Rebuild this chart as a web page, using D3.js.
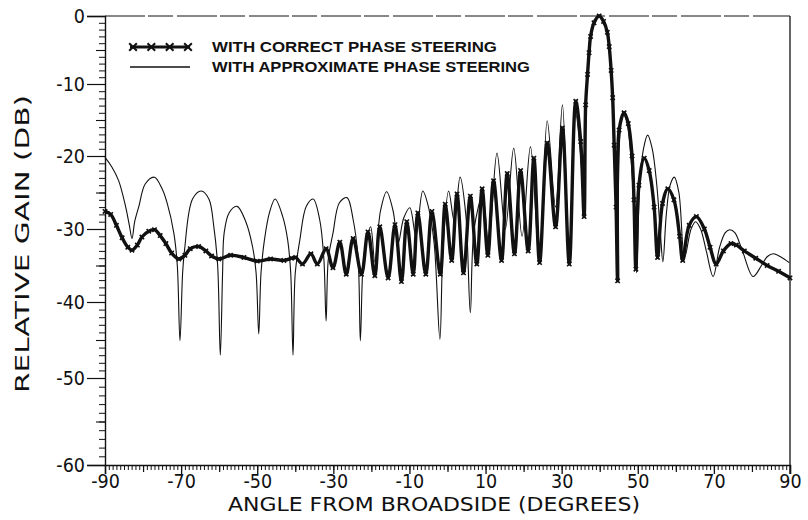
<!DOCTYPE html>
<html><head><meta charset="utf-8">
<script src="https://cdn.jsdelivr.net/npm/d3@7/dist/d3.min.js"></script>
<style>
html,body{margin:0;padding:0;background:#fff;}
svg{display:block;}
.tick text{font-family:"DejaVu Sans Condensed","Liberation Sans Narrow","DejaVu Sans",sans-serif;font-size:19.5px;fill:#111;}
</style></head>
<body><svg id="chart" width="808" height="520"></svg>
<script>
// ---- data ----
const xTickLabels = [-90,-70,-50,-30,-10,10,30,50,70,90];
const yTickLabels = [0,-10,-20,-30,-40,-50,-60];
const legendLabels = ["WITH CORRECT PHASE STEERING","WITH APPROXIMATE PHASE STEERING"];
const xTitle = "ANGLE FROM BROADSIDE (DEGREES)";
const yTitle = "RELATIVE GAIN (DB)";

// approximate phase steering (thin line)
const approxDeg = [-90.0,-88.2,-86.4,-84.6,-83.6,-82.9,-82.2,-81.1,-79.4,-77.0,-75.0,-73.7,-71.9,-71.0,-70.3,-69.6,-69.1,-67.0,-64.7,-62.7,-61.4,-60.4,-59.7,-59.1,-58.7,-57.4,-55.3,-53.0,-51.2,-50.3,-49.6,-49.0,-48.1,-46.8,-45.3,-43.3,-42.0,-41.2,-40.6,-40.0,-38.8,-37.1,-35.3,-33.6,-32.5,-31.9,-31.3,-30.1,-28.4,-26.4,-24.8,-23.5,-22.9,-22.2,-21.3,-20.2,-19.1,-17.6,-16.0,-14.3,-13.0,-11.5,-9.9,-8.3,-6.5,-5.0,-3.5,-2.0,-1.2,0.3,1.8,3.3,4.8,6.0,7.0,9.2,10.8,13.0,15.2,17.4,19.6,21.8,24.2,26.2,28.4,30.2,32.0,33.5,35.0,35.9,36.3,36.8,37.2,37.6,38.5,39.85,41.0,42.0,42.5,43.0,43.4,43.8,44.3,44.7,45.2,46.0,47.0,48.0,49.0,49.7,50.5,51.5,52.6,53.8,55.0,56.0,56.6,57.5,58.5,59.6,60.8,62.3,64.0,65.2,66.5,68.0,69.8,71.5,73.0,74.2,75.5,77.5,80.3,82.5,84.0,85.6,87.5,89.8];
const approxDb = [-20.2,-21.5,-23.4,-26.9,-29.5,-31.3,-29.0,-26.9,-23.8,-22.9,-24.5,-26.4,-30.6,-35.0,-45.1,-36.0,-32.9,-25.9,-24.8,-25.9,-29.7,-35.0,-47.0,-36.0,-30.6,-27.8,-26.9,-29.0,-32.5,-36.0,-44.2,-36.0,-31.5,-27.8,-25.9,-28.3,-31.5,-36.0,-47.0,-36.0,-31.5,-26.9,-25.9,-28.7,-34.0,-42.5,-34.0,-30.6,-26.4,-25.7,-28.7,-34.0,-45.1,-35.0,-31.5,-29.7,-34.5,-27.5,-24.9,-27.5,-32.0,-28.5,-27.1,-31.0,-24.8,-27.0,-32.0,-44.9,-33.0,-24.8,-29.0,-22.9,-28.0,-41.4,-30.0,-25.5,-32.0,-19.6,-30.0,-18.9,-31.0,-18.7,-34.6,-15.1,-27.0,-12.9,-34.8,-13.5,-20.0,-28.3,-12.9,-8.6,-5.4,-3.0,-1.0,0,-0.8,-2.4,-4.5,-8.0,-11.9,-18.5,-27.0,-37.1,-18.0,-14.2,-15.0,-19.0,-27.0,-36.0,-24.0,-19.0,-17.1,-19.0,-24.0,-31.0,-34.5,-28.0,-24.0,-22.9,-25.0,-33.9,-30.0,-29.0,-30.0,-33.0,-36.5,-32.5,-30.5,-30.1,-30.5,-33.0,-36.5,-35.0,-33.8,-33.4,-33.8,-34.6];

// correct phase steering (thick line with crosses)
const correctDeg = [-90.0,-88.5,-87.0,-85.5,-84.0,-82.9,-81.5,-80.3,-78.5,-77.0,-75.5,-74.0,-72.5,-70.6,-69.0,-67.6,-65.4,-63.5,-62.0,-60.1,-57.0,-53.5,-50.0,-46.5,-43.0,-41.0,-39.9,-38.1,-35.9,-34.2,-31.9,-30.1,-28.3,-26.6,-24.8,-22.6,-20.9,-19.1,-17.8,-15.6,-13.8,-12.1,-10.7,-9.0,-7.8,-5.7,-4.1,-1.9,-0.6,1.1,2.5,4.2,6.0,7.7,9.1,10.6,12.1,14.2,15.7,17.6,19.2,21.2,22.7,24.2,26.2,28.4,30.2,32.0,33.7,35.0,35.9,36.3,36.8,37.2,37.6,38.5,39.85,41.0,42.0,42.5,43.0,43.4,43.8,44.3,44.7,45.1,46.4,47.5,48.5,49.0,49.5,50.3,51.7,53.0,54.3,55.2,56.5,57.9,59.5,61.0,61.8,63.5,65.4,67.5,69.0,70.6,72.5,74.5,75.9,78.0,81.0,84.0,87.0,90.0];
const correctDb = [-27.6,-28.0,-29.5,-31.2,-32.5,-32.9,-32.2,-31.1,-30.3,-30.1,-30.9,-32.0,-33.3,-34.1,-33.6,-32.7,-32.4,-33.0,-33.7,-34.1,-33.6,-33.9,-34.4,-34.1,-34.3,-34.0,-33.9,-34.8,-33.4,-34.8,-32.7,-35.3,-31.8,-36.2,-31.3,-36.2,-30.4,-36.4,-29.7,-36.7,-29.4,-37.2,-29.0,-36.2,-27.8,-36.2,-27.6,-36.2,-26.6,-34.3,-25.2,-36.0,-25.5,-34.8,-24.5,-33.6,-23.4,-34.3,-22.4,-33.4,-22.0,-33.0,-20.3,-34.6,-18.2,-29.7,-16.1,-34.8,-12.4,-18.0,-28.3,-12.9,-8.6,-5.4,-3.0,-1.0,0,-0.8,-2.4,-4.5,-8.0,-11.9,-18.5,-27.0,-37.1,-16.4,-14.0,-15.5,-20.0,-26.0,-35.5,-24.0,-20.3,-22.0,-27.0,-33.9,-26.5,-24.5,-26.0,-31.0,-34.3,-29.5,-28.3,-30.0,-32.5,-34.8,-33.0,-32.0,-32.2,-33.0,-34.0,-35.0,-35.8,-36.7];

// ---- layout ----
const svg = d3.select("#chart");
const plotL = 105, plotR = 790;
const x = d3.scaleLinear().domain([-90, 90]).range([plotL, plotR]);
// vertical scale follows the (slightly uneven) tick spacing of the scanned original
const y = d3.scaleLinear().domain([-60, -50, -40, -30, -20, -10, 0]).range([465, 378, 302, 229, 156, 84, 16]);
const plotB = y(-60), plotT = y(0);
const fmt = d => (d < 0 ? "-" + Math.abs(d) : String(d));
const ink = "#111";

// minor / mid ticks bottom
svg.append("g").attr("transform", `translate(0,${plotB})`)
  .call(d3.axisBottom(x).tickValues(d3.range(-90, 91, 1)).tickSize(5).tickFormat(""))
  .call(g => g.select(".domain").remove())
  .call(g => g.selectAll("line").attr("stroke", ink).attr("stroke-width", 1));
svg.append("g").attr("transform", `translate(0,${plotB})`)
  .call(d3.axisBottom(x).tickValues(d3.range(-80, 81, 20)).tickSize(7).tickFormat(""))
  .call(g => g.select(".domain").remove())
  .call(g => g.selectAll("line").attr("stroke", ink).attr("stroke-width", 1.2));
// major bottom with labels
svg.append("g").attr("transform", `translate(0,${plotB})`)
  .call(d3.axisBottom(x).tickValues(xTickLabels).tickSize(9).tickPadding(0).tickFormat(fmt))
  .call(g => g.select(".domain").attr("stroke", ink).attr("stroke-width", 1.4))
  .call(g => g.selectAll("line").attr("stroke", ink).attr("stroke-width", 1.3));

// left ticks
svg.append("g").attr("transform", `translate(${plotL},0)`)
  .call(d3.axisLeft(y).tickValues(d3.range(-60, 1, 1)).tickSize(6).tickFormat(""))
  .call(g => g.select(".domain").remove())
  .call(g => g.selectAll("line").attr("stroke", ink).attr("stroke-width", 1));
svg.append("g").attr("transform", `translate(${plotL},0)`)
  .call(d3.axisLeft(y).tickValues(d3.range(-55, 0, 10)).tickSize(9).tickFormat(""))
  .call(g => g.select(".domain").remove())
  .call(g => g.selectAll("line").attr("stroke", ink).attr("stroke-width", 1.1));
svg.append("g").attr("transform", `translate(${plotL},0)`)
  .call(d3.axisLeft(y).tickValues(yTickLabels).tickSize(18).tickPadding(2).tickFormat(fmt))
  .call(g => g.select(".domain").attr("stroke", ink).attr("stroke-width", 1.4))
  .call(g => g.selectAll("line").attr("stroke", ink).attr("stroke-width", 1.2));

// frame top & right
svg.append("line").attr("x1", x(-90)).attr("x2", x(90)).attr("y1", plotT).attr("y2", plotT)
  .attr("stroke", ink).attr("stroke-width", 1).attr("stroke-dasharray", "40,3,25,4");
svg.append("line").attr("x1", x(90)).attr("x2", x(90)).attr("y1", plotT).attr("y2", plotB + 9)
  .attr("stroke", ink).attr("stroke-width", 1.3);

// curves
const approxData = approxDeg.map((d, i) => [d, approxDb[i]]);
const correctData = correctDeg.map((d, i) => [d, correctDb[i]]);
const line = d3.line().x(d => x(d[0])).y(d => y(d[1])).curve(d3.curveCatmullRom.alpha(0.5));

svg.append("path").datum(approxData).attr("d", line)
  .attr("fill", "none").attr("stroke", ink).attr("stroke-width", 1.1);
svg.append("path").datum(correctData).attr("d", line)
  .attr("fill", "none").attr("stroke", ink).attr("stroke-width", 3.4).attr("stroke-linejoin", "round");

const cross = d3.symbol().type(d3.symbolX).size(14);
svg.append("g").selectAll("path").data(correctData).join("path")
  .attr("transform", d => `translate(${x(d[0])},${y(d[1])})`)
  .attr("d", cross).attr("stroke", ink).attr("stroke-width", 1.6).attr("fill", "none");

// legend
const lg = svg.append("g");
const lgX = [130, 190];
const crossPos = d3.scaleLinear().domain([0, 3]).range([133, 188]);
lg.append("line").attr("x1", lgX[0]).attr("x2", lgX[1]).attr("y1", 47).attr("y2", 47)
  .attr("stroke", ink).attr("stroke-width", 3);
lg.selectAll(".lx").data([0,1,2,3]).join("path").attr("class","lx")
  .attr("transform", d => `translate(${crossPos(d)},47)`)
  .attr("d", d3.symbol().type(d3.symbolX).size(40)).attr("stroke", ink).attr("stroke-width", 2).attr("fill","none");
lg.append("line").attr("x1", lgX[0]).attr("x2", lgX[1]).attr("y1", 67).attr("y2", 67)
  .attr("stroke", ink).attr("stroke-width", 1.4);
lg.selectAll("text").data(legendLabels).join("text")
  .attr("x", 212).attr("y", (d, i) => 52 + i * 20)
  .attr("font-family", "Liberation Sans, Arial, sans-serif").attr("font-weight", "bold")
  .attr("font-size", 14).attr("fill", ink)
  .attr("textLength", (d, i) => i === 0 ? 285 : 318).attr("lengthAdjust", "spacingAndGlyphs")
  .text(d => d);

// axis titles
svg.append("text").attr("x", 434).attr("y", 511).attr("text-anchor", "middle")
  .attr("font-family", "DejaVu Sans Condensed, DejaVu Sans, sans-serif").attr("font-size", 19)
  .attr("fill", ink).attr("textLength", 412).attr("lengthAdjust", "spacingAndGlyphs")
  .text(xTitle);
svg.append("text").attr("transform", "translate(29,244) rotate(-90)").attr("text-anchor", "middle")
  .attr("font-family", "DejaVu Sans Condensed, DejaVu Sans, sans-serif").attr("font-size", 19)
  .attr("fill", ink).attr("textLength", 298).attr("lengthAdjust", "spacingAndGlyphs")
  .text(yTitle);
</script></body></html>
